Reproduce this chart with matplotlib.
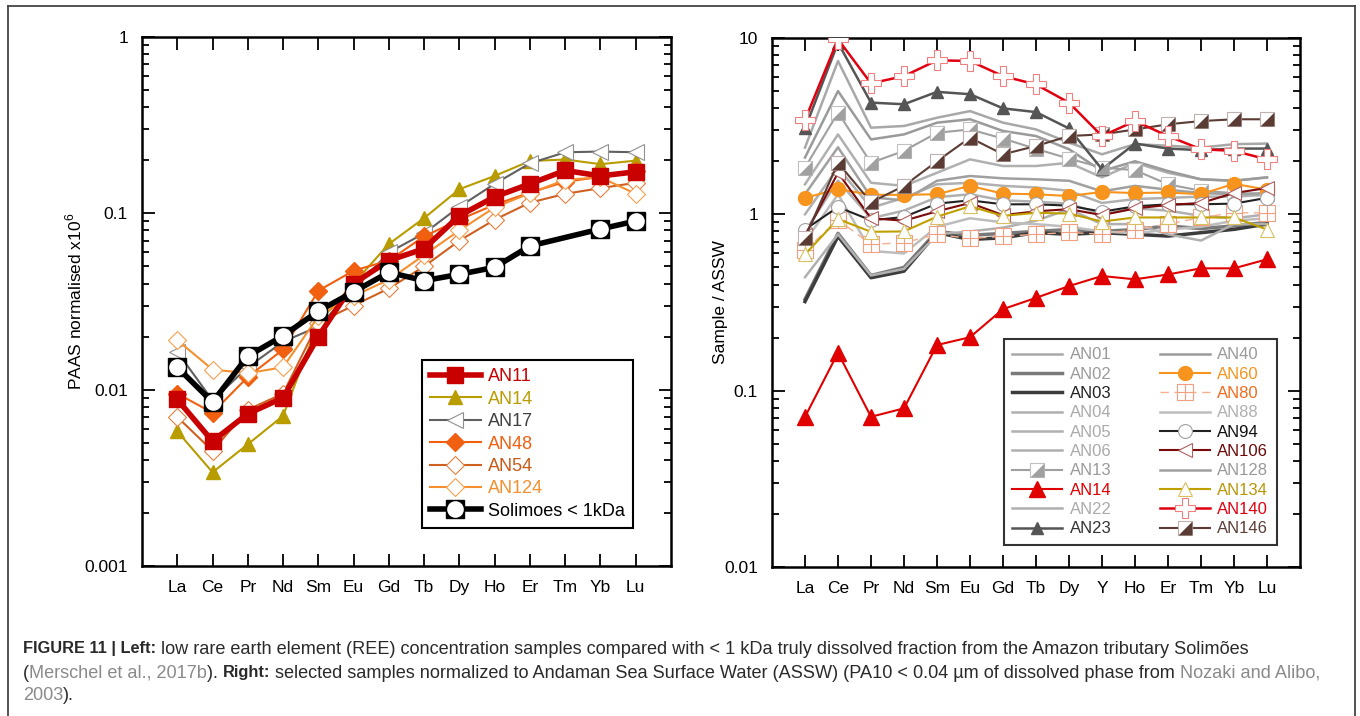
import matplotlib

matplotlib.use("Agg")
import matplotlib.pyplot as plt
import numpy as np
from matplotlib.legend_handler import HandlerTuple
from matplotlib.lines import Line2D
from matplotlib.ticker import LogLocator, NullFormatter

plt.rcParams["font.family"] = ["Liberation Sans", "DejaVu Sans"]
plt.rcParams["mathtext.fontset"] = "custom"
plt.rcParams["mathtext.rm"] = "Liberation Sans"

# ---- left panel: PAAS normalised ----
ree_left = ["La", "Ce", "Pr", "Nd", "Sm", "Eu", "Gd", "Tb", "Dy", "Ho", "Er", "Tm", "Yb", "Lu"]
an11_l = [0.0088, 0.0051, 0.0073, 0.0090, 0.0200, 0.040, 0.054, 0.063, 0.097, 0.124, 0.147, 0.175, 0.163, 0.172]
an14_l = [0.0058, 0.0034, 0.0049, 0.0071, 0.024, 0.040, 0.067, 0.094, 0.137, 0.163, 0.198, 0.202, 0.190, 0.199]
an17_l = [0.0164, 0.0087, 0.0134, 0.0187, 0.0228, 0.037, 0.060, 0.077, 0.109, 0.147, 0.192, 0.222, 0.224, 0.222]
an48_l = [0.0095, 0.0074, 0.0118, 0.0169, 0.0364, 0.0473, 0.054, 0.074, 0.092, 0.112, 0.131, 0.151, 0.161, 0.174]
an54_l = [0.0070, 0.0045, 0.0077, 0.0095, 0.024, 0.030, 0.0375, 0.050, 0.070, 0.092, 0.115, 0.129, 0.139, 0.149]
an124_l = [0.0191, 0.0130, 0.0124, 0.0134, 0.026, 0.034, 0.042, 0.058, 0.080, 0.108, 0.130, 0.155, 0.160, 0.129]
solimoes = [0.0134, 0.0085, 0.0155, 0.0202, 0.0279, 0.0359, 0.0463, 0.0415, 0.0451, 0.0494, 0.0653, np.nan, 0.0815, 0.0904]

# ---- right panel: sample / ASSW ----
ree_right = ["La", "Ce", "Pr", "Nd", "Sm", "Eu", "Gd", "Tb", "Dy", "Y", "Ho", "Er", "Tm", "Yb", "Lu"]
an01 = [2.39, 7.41, 3.10, 3.17, 3.53, 3.85, 3.31, 3.03, 2.55, 2.19, 2.50, 2.45, 2.39, 2.50, 2.52]
an02 = [0.33, 0.78, 0.45, 0.50, 0.80, 0.76, 0.78, 0.80, 0.82, 0.80, 0.82, 0.86, 0.83, 0.86, 0.90]
an03 = [0.32, 0.75, 0.437, 0.476, 0.787, 0.72, 0.736, 0.787, 0.77, 0.787, 0.77, 0.753, 0.787, 0.822, 0.88]
an04 = [1.48, 2.84, 1.51, 1.45, 1.72, 2.05, 1.88, 1.88, 1.96, 1.62, 1.96, 1.72, 1.58, 1.55, 1.62]
an05 = [1.00, 1.84, 1.09, 1.24, 1.48, 1.51, 1.45, 1.42, 1.36, 1.16, 1.22, 1.24, 1.26, 1.26, 1.29]
an06 = [0.80, 1.55, 0.95, 1.05, 1.25, 1.30, 1.20, 1.18, 1.15, 1.00, 1.08, 1.05, 0.98, 0.95, 1.00]
an13 = [1.84, 3.77, 1.96, 2.29, 2.90, 3.03, 2.69, 2.35, 2.07, 1.84, 1.78, 1.48, 1.36, 1.32, 1.30]
an14 = [0.0710, 0.164, 0.0711, 0.0794, 0.1815, 0.201, 0.29, 0.336, 0.392, 0.447, 0.428, 0.456, 0.494, 0.494, 0.556]
an22 = [0.44, 0.77, 0.45, 0.49, 0.77, 0.80, 0.84, 0.92, 1.07, 0.88, 0.88, 0.77, 0.71, 0.88, 0.88]
an23 = [3.07, 9.4, 4.30, 4.21, 4.95, 4.80, 3.99, 3.80, 3.07, 1.80, 2.52, 2.36, 2.31, 2.36, 2.36]
an40 = [2.10, 5.00, 2.66, 2.84, 3.31, 3.46, 2.97, 2.78, 2.34, 1.76, 2.00, 1.76, 1.58, 1.55, 1.62]
an60 = [1.24, 1.39, 1.29, 1.29, 1.30, 1.45, 1.31, 1.30, 1.27, 1.34, 1.32, 1.33, 1.30, 1.49, 1.38]
an80 = [0.625, 0.93, 0.676, 0.69, 0.77, 0.73, 0.75, 0.77, 0.79, 0.77, 0.82, 0.88, 0.96, 1.02, 1.02]
an88 = [0.70, 1.30, 0.62, 0.60, 0.85, 0.95, 0.90, 0.88, 0.85, 0.80, 0.78, 0.82, 0.85, 0.92, 0.95]
an94 = [0.82, 1.10, 0.925, 0.966, 1.15, 1.20, 1.14, 1.14, 1.12, 1.035, 1.11, 1.14, 1.14, 1.15, 1.24]
an106 = [0.76, 1.72, 0.95, 0.92, 1.04, 1.16, 0.99, 1.04, 1.07, 0.99, 1.08, 1.13, 1.16, 1.32, 1.41]
an128 = [1.30, 2.40, 1.25, 1.20, 1.55, 1.65, 1.60, 1.58, 1.55, 1.35, 1.45, 1.38, 1.32, 1.30, 1.32]
an134 = [0.593, 0.94, 0.796, 0.80, 0.97, 1.11, 0.98, 1.02, 1.01, 0.91, 0.96, 0.96, 0.96, 0.96, 0.82]
an140 = [3.43, 9.84, 5.53, 6.08, 7.47, 7.41, 6.08, 5.45, 4.30, 2.78, 3.38, 2.78, 2.34, 2.29, 2.05]
an146 = [0.736, 1.96, 1.17, 1.45, 2.00, 2.72, 2.19, 2.44, 2.78, 2.84, 3.03, 3.24, 3.38, 3.46, 3.46]

W, H = 1360, 716
fig = plt.figure(figsize=(W / 100, H / 100), dpi=100)


def px_axes(x0, y0, x1, y1):
    # pixel box (top-left origin) -> figure fraction axes
    return fig.add_axes([x0 / W, 1 - y1 / H, (x1 - x0) / W, (y1 - y0) / H])


def style_axes(ax, labels, ylim, yticks, yticklabels):
    n = len(labels)
    ax.set_yscale("log")
    ax.set_xlim(-1, n)
    ax.set_ylim(*ylim)
    ax.set_xticks(range(n))
    ax.set_xticklabels(labels)
    ax.set_yticks(yticks)
    ax.set_yticklabels(yticklabels)
    ax.yaxis.set_minor_locator(LogLocator(base=10, subs=np.arange(2, 10)))
    ax.yaxis.set_minor_formatter(NullFormatter())
    ax.tick_params(which="both", direction="in", top=True, right=True, width=1.3, labelsize=12.5)
    ax.tick_params(which="major", length=9, pad=10)
    ax.tick_params(which="minor", length=5)
    for s in ax.spines.values():
        s.set_linewidth(1.8)


def half_square(ax, x, y, line_color, edge, fill, ms, lw=1.5, z=3):
    # square with lower-right half filled
    ln = ax.plot(x, y, color=line_color, lw=lw, marker="s", ms=ms, mfc="white", mec=edge, mew=0.8, zorder=z)[0]
    tri = ax.plot(x, y, ls="none", marker=[(-1, -1), (1, -1), (1, 1), (-1, -1)], ms=ms, color=fill, mew=0, zorder=z + 0.1)[0]
    return (ln, tri)


overlay = {tuple: HandlerTuple(ndivide=1, pad=0)}

# ============ left panel ============
ax1 = px_axes(142, 37, 671, 566)
x = np.arange(len(ree_left))

h_an11 = ax1.plot(x, an11_l, color="#c80000", lw=4, marker="s", ms=11, zorder=5)[0]
h_an14 = ax1.plot(x, an14_l, color="#b89c00", lw=1.5, marker="^", ms=10, zorder=4)[0]
h_an17 = ax1.plot(x, an17_l, color="#606060", lw=1.5, marker="<", ms=11, mfc="white", mec="#909090", mew=0.8, zorder=4)[0]
h_an48 = ax1.plot(x, an48_l, color="#f06010", lw=1.5, marker="D", ms=9, zorder=4)[0]
h_an54 = ax1.plot(x, an54_l, color="#d06020", lw=1.5, marker="D", ms=9, mfc="white", mec="#e08040", mew=0.8, zorder=4)[0]
h_an124 = ax1.plot(x, an124_l, color="#f59030", lw=1.5, marker="D", ms=9, mfc="white", mec="#f5a050", mew=0.8, zorder=4)[0]

sol = np.array(solimoes)
ok = np.isfinite(sol)
h_sol_sq = ax1.plot(x[ok], sol[ok], color="black", lw=4, marker="s", ms=13, zorder=6)[0]
h_sol_c = ax1.plot(x[ok], sol[ok], ls="none", marker="o", ms=12, mfc="white", mew=0, zorder=7)[0]

style_axes(ax1, ree_left, (0.001, 1), [0.001, 0.01, 0.1, 1], ["0.001", "0.01", "0.1", "1"])
ax1.set_ylabel("PAAS normalised x10$^{\\mathregular{6}}$", fontsize=12.5)
ax1.yaxis.set_label_coords(-0.108, 0.5)

left_handles = [h_an11, h_an14, h_an17, h_an48, h_an54, h_an124, (h_sol_sq, h_sol_c)]
left_labels = ["AN11", "AN14", "AN17", "AN48", "AN54", "AN124", "Solimoes < 1kDa"]
left_colors = ["#c80000", "#b89c00", "#404040", "#f06010", "#c85a18", "#f59030", "black"]
leg1 = ax1.legend(left_handles, left_labels, loc="lower right", bbox_to_anchor=(0.928, 0.072),
                  borderaxespad=0, fontsize=13, handlelength=2.8, handletextpad=0.4, labelspacing=0.3,
                  borderpad=0.45, fancybox=False, framealpha=1, edgecolor="black", handler_map=overlay)
leg1.get_frame().set_linewidth(1.5)
for t, c in zip(leg1.get_texts(), left_colors):
    t.set_color(c)

# ============ right panel ============
ax2 = px_axes(772, 38, 1300, 567)
x = np.arange(len(ree_right))

gray = dict(lw=1.8, zorder=2)
h01 = ax2.plot(x, an01, color="#a8a8a8", **gray)[0]
h02 = ax2.plot(x, an02, color="#7a7a7a", lw=2.5, zorder=2)[0]
h03 = ax2.plot(x, an03, color="#3c3c3c", lw=2.5, zorder=2)[0]
h04 = ax2.plot(x, an04, color="#b0b0b0", **gray)[0]
h05 = ax2.plot(x, an05, color="#b0b0b0", **gray)[0]
h06 = ax2.plot(x, an06, color="#b0b0b0", **gray)[0]
h13 = half_square(ax2, x, an13, "#a0a0a0", "#c0c0c0", "#a0a0a0", 10)
h14 = ax2.plot(x, an14, color="#e00000", lw=1.5, marker="^", ms=11, zorder=4)[0]
h22 = ax2.plot(x, an22, color="#b0b0b0", **gray)[0]
h23 = ax2.plot(x, an23, color="#555555", lw=1.8, marker="^", ms=8, zorder=3)[0]
h40 = ax2.plot(x, an40, color="#9a9a9a", **gray)[0]
h60 = ax2.plot(x, an60, color="#f7941d", lw=1.5, marker="o", ms=10, zorder=4)[0]
h80_ln = ax2.plot(x, an80, color="#f5b090", lw=1.0, ls=(0, (6, 4)), marker="s", ms=11,
                  mfc="white", mec="#f0a080", mew=0.8, zorder=3)[0]
h80_pl = ax2.plot(x, an80, ls="none", marker="+", ms=11, mec="#f0a080", mew=0.8, zorder=3.1)[0]
h88 = ax2.plot(x, an88, color="#bdbdbd", **gray)[0]
h94 = ax2.plot(x, an94, color="#222222", lw=1.5, marker="o", ms=10, mfc="white", mec="#a0a0a0", mew=0.8, zorder=4)[0]
h106 = ax2.plot(x, an106, color="#7a0a0a", lw=1.5, marker="<", ms=10, mfc="white", mec="#b06060", mew=0.8, zorder=4)[0]
h128 = ax2.plot(x, an128, color="#a0a0a0", **gray)[0]
h134 = ax2.plot(x, an134, color="#c0a000", lw=1.5, marker="^", ms=10, mfc="white", mec="#d8c060", mew=0.8, zorder=4)[0]
h140 = ax2.plot(x, an140, color="#e00010", lw=1.8, marker="P", ms=14, mfc="white", mec="#f08080", mew=0.8, zorder=5)[0]
h146 = half_square(ax2, x, an146, "#5a3c34", "#c0b0b0", "#5a3c34", 10, z=4)

style_axes(ax2, ree_right, (0.01, 10), [0.01, 0.1, 1, 10], ["0.01", "0.1", "1", "10"])
ax2.set_ylabel("Sample / ASSW", fontsize=12.5)
ax2.yaxis.set_label_coords(-0.084, 0.5)

right_handles = [h01, h02, h03, h04, h05, h06, h13, h14, h22, h23,
                 h40, h60, (h80_ln, h80_pl), h88, h94, h106, h128, h134, h140, h146]
right_labels = ["AN01", "AN02", "AN03", "AN04", "AN05", "AN06", "AN13", "AN14", "AN22", "AN23",
                "AN40", "AN60", "AN80", "AN88", "AN94", "AN106", "AN128", "AN134", "AN140", "AN146"]
right_colors = ["#9a9a9a", "#9a9a9a", "#222222", "#aaaaaa", "#aaaaaa", "#aaaaaa", "#9a9a9a", "#e00000",
                "#aaaaaa", "#333333", "#9a9a9a", "#f7941d", "#f26b1d", "#b0b0b0", "#111111", "#6b0a0a",
                "#9a9a9a", "#b8960a", "#e00010", "#5a4038"]
leg2 = ax2.legend(right_handles, right_labels, ncol=2, loc="lower right", bbox_to_anchor=(0.956, 0.042),
                  borderaxespad=0, fontsize=12, handlelength=3.0, handletextpad=0.45, labelspacing=0.26,
                  columnspacing=2.9, borderpad=0.5, fancybox=False, framealpha=1, edgecolor="#333333",
                  handler_map=overlay)
leg2.get_frame().set_linewidth(1.5)
for t, c in zip(leg2.get_texts(), right_colors):
    t.set_color(c)

# ============ frame and caption ============
frame = dict(color="#444444", lw=1.3, transform=fig.transFigure)
fig.add_artist(Line2D([8 / W, 8 / W], [0, 1 - 6 / H], **frame))
fig.add_artist(Line2D([8 / W, 1355 / W], [1 - 6 / H, 1 - 6 / H], **frame))
fig.add_artist(Line2D([1355 / W, 1355 / W], [0, 1 - 6 / H], **frame))

renderer = fig.canvas.get_renderer()
SIZE = {"normal": 13.1, "bold": 11.8}
TEXT = "#2a2a2a"
LINK = "#8a8a8a"


def text_width(s, weight):
    t = fig.text(0, 0, "|" + s + "|", fontsize=SIZE[weight], fontweight=weight)
    w1 = t.get_window_extent(renderer).width
    t.set_text("||")
    w0 = t.get_window_extent(renderer).width
    t.remove()
    return w1 - w0


def caption_line(y_px, pieces):
    xp = 23
    for s, weight, color in pieces:
        fig.text(xp / W, 1 - y_px / H, s, fontsize=SIZE[weight], fontweight=weight, color=color,
                 va="center", ha="left")
        xp += text_width(s, weight)


caption_line(649, [
    ("FIGURE 11 | Left:", "bold", TEXT),
    (" low rare earth element (REE) concentration samples compared with < 1 kDa truly dissolved fraction "
     "from the Amazon tributary Solimões", "normal", TEXT),
])
caption_line(673, [
    ("(", "normal", TEXT),
    ("Merschel et al., 2017b", "normal", LINK),
    ("). ", "normal", TEXT),
    ("Right:", "bold", TEXT),
    (" selected samples normalized to Andaman Sea Surface Water (ASSW) (PA10 < 0.04 µm of dissolved "
     "phase from ", "normal", TEXT),
    ("Nozaki and Alibo,", "normal", LINK),
])
caption_line(696, [
    ("2003", "normal", LINK),
    (").", "normal", TEXT),
])

fig.savefig("out.png", dpi=100)
